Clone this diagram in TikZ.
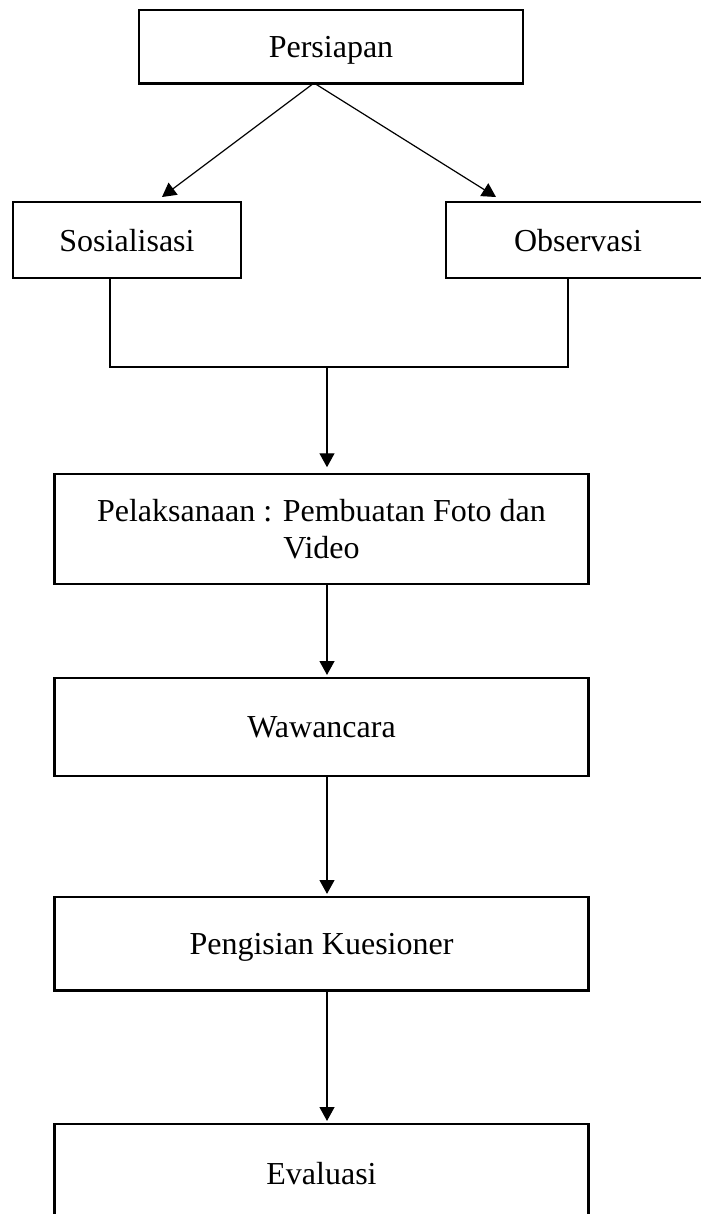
\documentclass[tikz,border=0pt]{standalone}
\usepackage{fontspec}
\setmainfont{Liberation Serif}
\usepackage{tikz}
\usetikzlibrary{arrows.meta}
\newcommand{\tebal}{1.1pt}
\newcommand{\tipis}{0.45pt}

\begin{document}
\begin{tikzpicture}[x=0.375pt, y=-0.375pt,
    kotak/.style={draw, line width=\tebal, inner sep=0pt, align=center, text depth=0pt,
        font=\fontsize{12}{13.9}\selectfont},
    panah/.style={line width=\tipis, -{Triangle[length=5.2pt,width=5.6pt]}},
    garis/.style={line width=\tipis}]
    \useasboundingbox (0,0) rectangle (700,1214);
    %top box
        \node[kotak, minimum width=144pt, minimum height=27.4pt] (persiapan) at (331,46.5) {Persiapan};
    %two boxes under it
        \node[kotak, minimum width=85.5pt, minimum height=28.5pt] (sosialisasi) at (127,240) {Sosialisasi};
        \node[kotak, minimum width=99pt, minimum height=28.5pt] (observasi) at (578,240) {Observasi};
    %main column
        \node[kotak, minimum width=200pt, minimum height=41.25pt] (pelaksanaan) at (321.5,529) {Pelaksanaan : Pembuatan Foto dan\\Video};
        \node[kotak, minimum width=200pt, minimum height=36.75pt] (wawancara) at (321.5,727) {Wawancara};
        \node[kotak, minimum width=200pt, minimum height=34.9pt] (pengisian) at (321.5,943.5) {Pengisian Kuesioner};
        \node[kotak, minimum width=200pt, minimum height=36.75pt] (evaluasi) at (321.5,1173) {Evaluasi};

    %split from the top box
        \coordinate (cabang) at (314,83);
        \coordinate (ujungkiri) at (162,197);
        \coordinate (ujungkanan) at (496,197);
        \draw[panah] (cabang) -- (ujungkiri);
        \draw[panah] (cabang) -- (ujungkanan);

    %join of the two boxes
        \coordinate (kiri) at (110,367);
        \coordinate (kanan) at (568,367);
        \coordinate (tengah) at (327,367);
        \draw[garis] (sosialisasi.south -| kiri) -- (kiri) -- (kanan) -- (observasi.south -| kanan);
        \draw[panah, shorten >=2pt] (tengah) -- (pelaksanaan.north -| tengah);

    %arrows down the column
        \draw[panah, shorten >=0.6pt] (pelaksanaan.south -| tengah) -- (wawancara.north -| tengah);
        \draw[panah, shorten >=0.6pt] (wawancara.south -| tengah) -- (pengisian.north -| tengah);
        \draw[panah, shorten >=0.6pt] (pengisian.south -| tengah) -- (evaluasi.north -| tengah);
\end{tikzpicture}
\end{document}
